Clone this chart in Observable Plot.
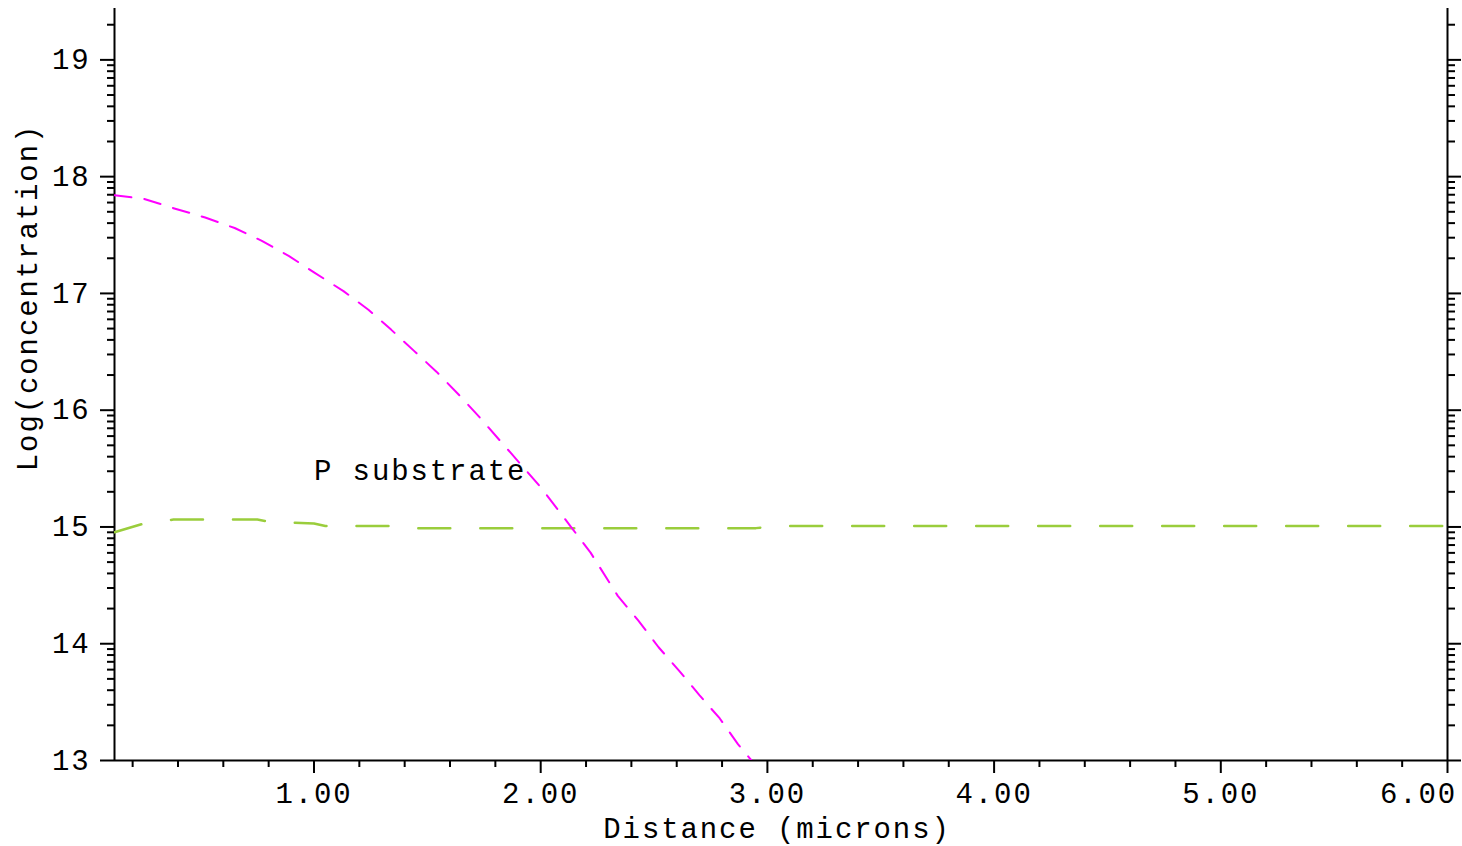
<!DOCTYPE html>
<html>
<head>
<meta charset="utf-8">
<script src="https://cdn.jsdelivr.net/npm/d3@7"></script>
<script src="https://cdn.jsdelivr.net/npm/@observablehq/plot@0.6"></script>
<style>
  html, body { margin: 0; padding: 0; background: #ffffff; }
  #chart svg { display: block; }
</style>
</head>
<body>
<div id="chart"></div>
<script>
// ---- Data ----
// Magenta (dopant profile) : distance (microns) vs log(concentration)
const magentaX = [0.12, 0.25, 0.38, 0.52, 0.65, 0.77, 0.89, 1.00, 1.13, 1.24, 1.34, 1.44, 1.54, 1.64, 1.73, 1.82, 1.87, 2.00, 2.13, 2.22, 2.34, 2.43, 2.52, 2.61, 2.70, 2.79, 2.87, 2.93];
const magentaY = [17.84, 17.81, 17.73, 17.65, 17.56, 17.45, 17.32, 17.18, 17.02, 16.86, 16.69, 16.51, 16.33, 16.13, 15.94, 15.74, 15.63, 15.34, 15.01, 14.78, 14.41, 14.20, 13.97, 13.77, 13.56, 13.36, 13.14, 13.00];

// Green (P substrate)
const greenX = [0.12, 0.25, 0.38, 0.55, 0.75, 0.80, 1.00, 1.05, 1.40, 1.45, 2.00, 2.50, 2.95, 3.05, 4.00, 5.00, 6.00];
const greenY = [14.955, 15.03, 15.063, 15.065, 15.063, 15.046, 15.03, 15.008, 15.008, 14.99, 14.99, 14.99, 14.99, 15.008, 15.008, 15.008, 15.008];

// Annotation
const annotX = [1.0];
const annotY = [15.48];
const annotText = ["P substrate"];

// Axes
const xDomain = [0.12, 6.0];
const yDomain = [13, 19.44];
const xMajorTicks = [1, 2, 3, 4, 5, 6];
const xTickLabels = ["1.00", "2.00", "3.00", "4.00", "5.00", "6.00"];
const yMajorTicks = [13, 14, 15, 16, 17, 18, 19];
const yTickLabels = ["13", "14", "15", "16", "17", "18", "19"];
const xTitle = "Distance (microns)";
const yTitle = "Log(concentration)";

// ---- Build tables ----
const magenta = magentaX.map((x, i) => ({x, y: magentaY[i]}));
const green = greenX.map((x, i) => ({x, y: greenY[i]}));
const annot = annotX.map((x, i) => ({x, y: annotY[i], text: annotText[i]}));

const xMinorTicks = d3.range(1, 30).map(i => +(i * 0.2).toFixed(1)).filter(v => !Number.isInteger(v) && v >= xDomain[0] && v <= xDomain[1]);
const yMinorTicks = [];
for (let n = 13; n <= 19; n++) {
  for (let k = 2; k <= 9; k++) {
    const v = n + Math.log10(k);
    if (v <= yDomain[1]) yMinorTicks.push(v);
  }
}
const xFmt = d => xTickLabels[xMajorTicks.indexOf(d)];
const yFmt = d => yTickLabels[yMajorTicks.indexOf(d)];
const xInner = xMajorTicks.slice(0, -1);
const xLast = xMajorTicks.slice(-1);

const ink = "#000000";

const chart = Plot.plot({
  width: 1462,
  height: 846,
  marginLeft: 114,
  marginRight: 15,
  marginTop: 8,
  marginBottom: 86,
  style: {
    fontFamily: "'Liberation Mono', 'DejaVu Sans Mono', monospace",
    fontSize: "29px",
    letterSpacing: "1.9px",
    background: "#ffffff",
    color: ink
  },
  x: {domain: xDomain, axis: null},
  y: {domain: yDomain, axis: null},
  marks: [
    // axis lines
    Plot.ruleX([xDomain[0]], {stroke: ink, strokeWidth: 2}),
    Plot.ruleX([xDomain[1]], {stroke: ink, strokeWidth: 2}),
    Plot.ruleY([yDomain[0]], {stroke: ink, strokeWidth: 2}),
    // bottom axis
    Plot.axisX(xInner, {anchor: "bottom", tickSize: 13, tickPadding: 9, tickFormat: xFmt, strokeWidth: 2, stroke: ink, fill: ink, label: null}),
    Plot.axisX(xLast, {anchor: "bottom", tickSize: 13, tickFormat: () => "", strokeWidth: 2, stroke: ink, label: null}),
    Plot.axisX(xLast, {anchor: "bottom", tickSize: 0, tickPadding: 22, tickFormat: xFmt, dx: -29, strokeWidth: 0, fill: ink, label: null}),
    Plot.axisX(xMinorTicks, {anchor: "bottom", tickSize: 7, tickFormat: () => "", strokeWidth: 2, stroke: ink, label: null}),
    // left axis
    Plot.axisY(yMajorTicks, {anchor: "left", tickSize: 14, tickPadding: 10, tickFormat: yFmt, strokeWidth: 2, stroke: ink, fill: ink, label: null}),
    Plot.axisY(yMinorTicks, {anchor: "left", tickSize: 7, tickFormat: () => "", strokeWidth: 2, stroke: ink, label: null}),
    // right axis
    Plot.axisY(yMajorTicks, {anchor: "right", tickSize: 13, tickFormat: () => "", strokeWidth: 2, stroke: ink, label: null}),
    Plot.axisY(yMinorTicks, {anchor: "right", tickSize: 7, tickFormat: () => "", strokeWidth: 2, stroke: ink, label: null}),
    // data
    Plot.line(green, {x: "x", y: "y", stroke: "#9acd3c", strokeWidth: 2.5, strokeDasharray: "32,30", strokeDashoffset: 4, clip: true}),
    Plot.line(magenta, {x: "x", y: "y", stroke: "#ff00ff", strokeWidth: 2, strokeDasharray: "17,13", clip: true}),
    // annotation
    Plot.text(annot, {x: "x", y: "y", text: "text", textAnchor: "start", lineAnchor: "middle", fill: ink}),
    // axis titles
    Plot.text([xTitle], {frameAnchor: "bottom", textAnchor: "middle", lineAnchor: "middle", dx: -4, dy: 68, fill: ink}),
    Plot.text([yTitle], {frameAnchor: "left", rotate: -90, textAnchor: "middle", lineAnchor: "middle", dx: -87, dy: -87, fill: ink})
  ]
});
document.getElementById("chart").appendChild(chart);
</script>
</body>
</html>
